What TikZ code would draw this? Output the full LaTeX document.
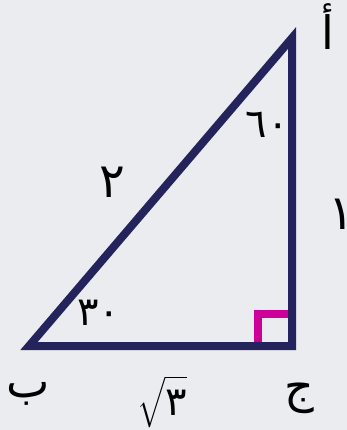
\documentclass[tikz,border=0pt]{standalone}
\usepackage{fontspec}
\usepackage{graphicx}
\newfontfamily\arabicfont[Script=Arabic]{DejaVu Sans}
\TeXXeTstate=1
\definecolor{navy}{HTML}{24235C}
\definecolor{mag}{HTML}{CC0099}
\definecolor{bg}{HTML}{EBECF0}
\begin{document}
\begin{tikzpicture}[x=1pt,y=-1pt,
  lbl/.style={font=\arabicfont\fontsize{46}{48}\selectfont, text=black, inner sep=0pt, anchor=center},
  num/.style={font=\arabicfont\fontsize{48}{50}\selectfont, text=black, inner sep=0pt, anchor=center},
  ang/.style={font=\arabicfont\fontsize{40}{42}\selectfont, text=black, inner sep=0pt, anchor=center},
  side/.style={navy, line width=8pt, line join=miter},
  rmark/.style={mag, line width=8pt, line join=miter}]
\fill[bg] (0,0) rectangle (347,430);
\useasboundingbox (0,0) rectangle (347,430);
\coordinate (A) at (292,38);
\coordinate (B) at (29,346);
\coordinate (C) at (292,346);
\coordinate (R1) at (292,314);
\coordinate (R2) at (258,314);
\coordinate (R3) at (258,346);
\draw[rmark] (R1) -- (R2) -- (R3);
\draw[side] (A) -- (B) -- (C) -- cycle;
\node[lbl] (la) at (328,27) {\beginR أ\endR};
\node[lbl] (lb) at (28,394) {\beginR ب\endR};
\node[lbl] (lc) at (299,398) {\beginR ج\endR};
\node[num] (s2) at (112,182) {٢};
\node[num] (s1) at (341,214) {١};
\node[ang] (a60) at (267,125) {٦٠};
\node[ang] (a30) at (99,313) {٣٠};
\node[inner sep=0pt, anchor=center] (s3) at (162,402) {\scalebox{2.8}{\boldmath$\sqrt{\hbox{\vrule height 10pt depth 1.5pt width 0pt\arabicfont\fontsize{14.3}{15}\selectfont ٣}}$}};
\end{tikzpicture}
\end{document}
